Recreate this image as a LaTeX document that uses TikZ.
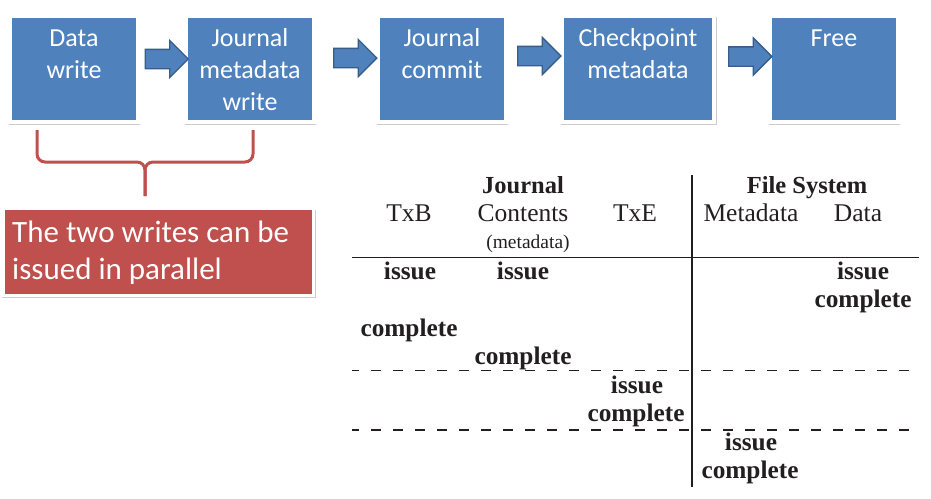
\documentclass[tikz,border=0pt]{standalone}
\usepackage{fontspec}
\setmainfont{Liberation Serif}
\newfontfamily\calfont{Carlito}
\usetikzlibrary{shapes.arrows,shadows}
\definecolor{oblue}{HTML}{4F81BD}
\definecolor{oblueline}{HTML}{385D8A}
\definecolor{ored}{HTML}{C0504D}
\definecolor{ink}{HTML}{231F20}
\tikzset{
  fbox/.style={draw=white, line width=4pt, fill=oblue, inner sep=0pt,
    minimum height=106pt,
    drop shadow={shadow xshift=0.6pt, shadow yshift=-1.8pt, shadow scale=1.025, opacity=.2, fill=black}},
  boxtext/.style={font=\calfont\fontsize{26}{32}\selectfont, text=white, align=center, inner sep=0pt, anchor=north},
  barrow/.style={single arrow, draw=oblueline, line width=1.3pt, fill=oblue,
    minimum height=43pt, minimum width=36pt, single arrow head extend=9pt,
    inner xsep=0pt, inner ysep=9pt, outer sep=0pt},
  rbox/.style={draw=white, line width=3pt, fill=ored, inner sep=0pt,
    minimum width=310pt, minimum height=87pt,
    drop shadow={shadow xshift=0.6pt, shadow yshift=-1.8pt, shadow scale=1.012, opacity=.2, fill=black}},
  rtext/.style={font=\calfont\fontsize{31}{37}\selectfont, text=white, align=left, inner sep=0pt, anchor=north west},
  brace/.style={draw=ored, line width=3pt, rounded corners=8pt},
  hdb/.style={font=\bfseries\fontsize{24.5}{28}\selectfont, text=ink, inner sep=0pt, anchor=base},
  hdr/.style={font=\fontsize{25.5}{28}\selectfont, text=ink, inner sep=0pt, anchor=base},
  hsm/.style={font=\fontsize{19.5}{22}\selectfont, text=ink, inner sep=0pt, anchor=base},
  cell/.style={font=\bfseries\fontsize{25.3}{28}\selectfont, text=ink, inner sep=0pt, anchor=base},
  tline/.style={draw=ink, line width=1.3pt},
  dline/.style={draw=ink, line width=1.3pt, dash pattern=on 10pt off 12pt, dash phase=3pt}
}
\begin{document}
\begin{tikzpicture}[x=1pt,y=-1pt]
\useasboundingbox[fill=white] (0,0) rectangle (931,498);
% process boxes
\node[fbox, minimum width=128pt] (b1) at (74,69) {};
\node[fbox, minimum width=128pt] (b2) at (250,69) {};
\node[fbox, minimum width=128pt] (b3) at (442,69) {};
\node[fbox, minimum width=152pt] (b4) at (638,69) {};
\node[fbox, minimum width=128pt] (b5) at (834,69) {};
\node[boxtext] (t1) at (74,25) {\rule{0pt}{21pt}Data\\write};
\node[boxtext] (t2) at (250,25) {\rule{0pt}{21pt}Journal\\metadata\\write};
\node[boxtext] (t3) at (442,25) {\rule{0pt}{21pt}Journal\\commit};
\node[boxtext] (t4) at (638,25) {\rule{0pt}{21pt}Checkpoint\\metadata};
\node[boxtext] (t5) at (834,25) {\rule{0pt}{21pt}Free};
% block arrows
\node[barrow] (a1) at (162,59) {};
\node[barrow] (a2) at (350.5,58) {};
\node[barrow] (a3) at (534.5,56) {};
\node[barrow] (a4) at (745.5,56.5) {};
% brace
\coordinate (bl) at (37,130);
\coordinate (br) at (253,130);
\coordinate (bm) at (145,162);
\coordinate (bt) at (145,196);
\draw[brace] (bl) -- (37,162) -- (bm) -- (bt);
\draw[brace] (br) -- (253,162) -- (bm) -- (bt);
% red note
\node[rbox] (note) at (158.75,252) {};
\node[rtext] (notetext) at (12,218) {\rule{0pt}{24pt}The two writes can be\\issued in parallel};
% table lines
\draw[tline] (352,257.5) -- (919,257.5);
\draw[tline] (692,175) -- (692,487);
\draw[dline] (352,370.5) -- (919,370.5);
\draw[dline] (352,430) -- (919,430);
% headers
\node[hdb] (hj) at (523,193) {Journal};
\node[hdb] (hf) at (807,193) {File System};
\node[hdr] (htxb) at (409,221) {TxB};
\node[hdr] (hcont) at (523,221) {Contents};
\node[hdr] (htxe) at (635,221) {TxE};
\node[hdr] (hmeta) at (751,221) {Metadata};
\node[hdr] (hdata) at (858,221) {Data};
\node[hsm] (hmd) at (528,248) {(metadata)};
% cells
\node[cell] (c1) at (410,279) {issue};
\node[cell] (c2) at (523,279) {issue};
\node[cell] (c3) at (863,279) {issue};
\node[cell] (c4) at (863,307.5) {complete};
\node[cell] (c5) at (409,336) {complete};
\node[cell] (c6) at (523,364.5) {complete};
\node[cell] (c7) at (637,393) {issue};
\node[cell] (c8) at (636,421.5) {complete};
\node[cell] (c9) at (751,450) {issue};
\node[cell] (c10) at (750,478.5) {complete};
\end{tikzpicture}
\end{document}
